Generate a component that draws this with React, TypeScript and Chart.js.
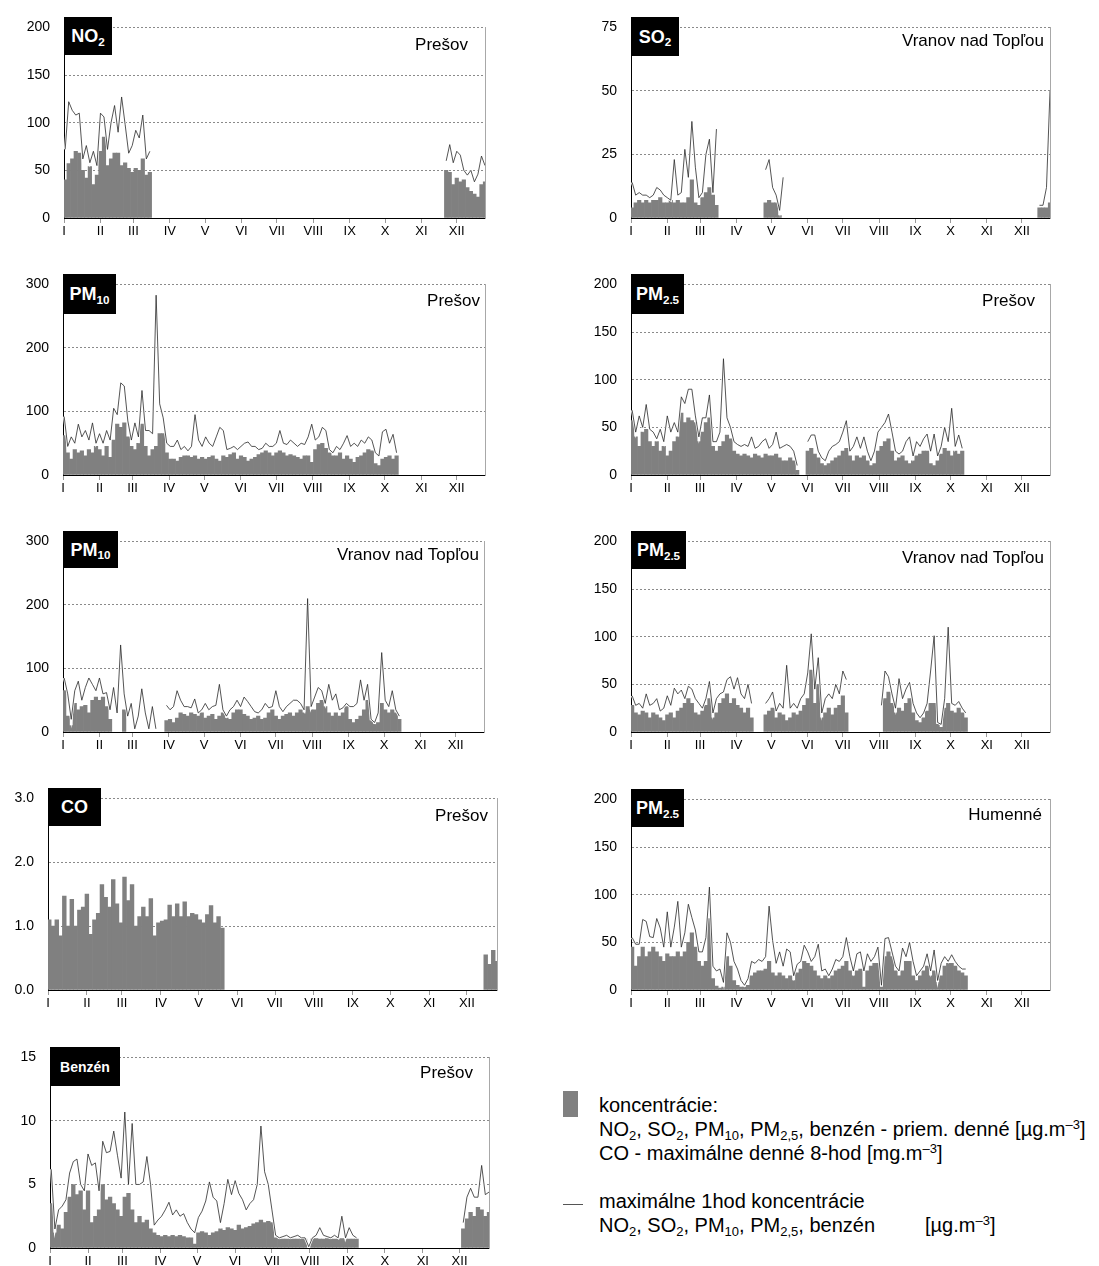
import React, { useEffect, useRef } from 'react';
import { Chart, registerables } from 'chart.js';

Chart.register(...registerables);

// A series is a list of segments: [first 3-day period index, values for consecutive 3-day periods]
type Seg = [number, number[]];

const MONTH_LABELS = ['I', 'II', 'III', 'IV', 'V', 'VI', 'VII', 'VIII', 'IX', 'X', 'XI', 'XII'];
const MONTH_START_DAYS = [0, 31, 59, 90, 120, 151, 181, 212, 243, 273, 304, 334];
const AXIS_LAST_DAY = 358;
const BIN_DAYS = 3;

// ---------- NO2 Prešov ----------
const NO2_MEAN: Seg[] = [
  [0, [40, 57, 62, 70, 68, 50, 42, 54, 35, 45, 70, 85, 55, 62, 68, 68, 55, 58, 52, 48, 52, 50, 62, 45, 48]],
  [108, [50, 48, 35, 42, 38, 40, 32, 28, 25, 22, 35, 38]],
];
const NO2_MAX: Seg[] = [
  [0, [72, 122, 113, 108, 110, 62, 76, 58, 70, 55, 110, 106, 72, 100, 118, 90, 127, 98, 68, 76, 92, 84, 108, 62, 70]],
  [108, [60, 77, 58, 70, 66, 50, 45, 50, 38, 46, 65, 55]],
];

// ---------- SO2 Vranov nad Topľou ----------
const SO2_MEAN: Seg[] = [
  [0, [4, 6, 7, 6, 7, 6, 7, 7, 8, 6, 6, 7, 6, 7, 6, 6, 8, 15, 6, 5, 8, 10, 12, 9, 5]],
  [38, [6, 7, 6, 6, 1]],
  [116, [4, 4, 4, 6]],
];
const SO2_MAX: Seg[] = [
  [0, [14, 9, 10, 9, 9, 8, 9, 12, 11, 9, 8, 7, 23, 9, 10, 27, 16, 38, 20, 8, 10, 25, 31, 10, 35]],
  [38, [19, 23, 12, 9, 3, 16]],
  [116, [5, 5, 12, 50]],
];

// ---------- PM10 Prešov ----------
const PM10_PRESOV_MEAN: Seg[] = [
  [0, [62, 35, 25, 40, 35, 38, 30, 40, 35, 45, 40, 30, 45, 28, 55, 80, 75, 82, 60, 45,
    40, 50, 80, 45, 30, 40, 45, 65, 65, 35, 25, 25, 22, 28, 30, 30, 28, 30, 25, 28,
    25, 28, 30, 25, 22, 30, 28, 32, 35, 25, 30, 28, 22, 25, 28, 32, 35, 38, 35, 30,
    35, 38, 35, 30, 32, 30, 28, 25, 30, 30, 20, 40, 48, 50, 42, 35, 30, 30, 35, 25,
    30, 25, 20, 28, 30, 35, 40, 38, 18, 15, 25, 28, 30, 25, 30]],
];
const PM10_PRESOV_MAX: Seg[] = [
  [0, [92, 45, 60, 50, 80, 60, 70, 55, 82, 50, 65, 50, 70, 55, 105, 95, 145, 140, 85, 55,
    82, 60, 133, 70, 70, 65, 283, 112, 90, 50, 45, 45, 55, 40, 45, 38, 45, 95, 55, 45,
    60, 50, 45, 60, 75, 70, 40, 42, 45, 40, 45, 50, 52, 45, 45, 40, 42, 50, 45, 45,
    50, 70, 50, 48, 55, 50, 45, 50, 48, 60, 80, 55, 60, 75, 70, 40, 35, 45, 40, 50,
    62, 45, 50, 45, 55, 50, 60, 55, 35, 30, 68, 72, 50, 64, 35]],
];

// ---------- PM2.5 Prešov ----------
const PM25_PRESOV_MEAN: Seg[] = [
  [0, [57, 40, 30, 45, 48, 35, 30, 35, 25, 30, 20, 25, 35, 40, 65, 55, 60, 57, 55, 35,
    45, 55, 60, 30, 25, 30, 35, 42, 38, 25, 22, 20, 22, 20, 18, 22, 20, 18, 22, 20,
    20, 22, 18, 15, 15, 18, 15, 5]],
  [50, [25, 28, 22, 18, 12, 10, 12, 15, 18, 20, 25, 28, 20, 15, 20, 18, 20, 15, 10, 12,
    25, 30, 35, 38, 25, 15, 18, 20, 15, 12, 15, 20, 22, 25, 25, 12, 10, 15, 22, 28,
    25, 20, 25, 22, 25]],
];
const PM25_PRESOV_MAX: Seg[] = [
  [0, [68, 45, 62, 50, 74, 48, 45, 38, 48, 35, 62, 45, 55, 45, 82, 75, 90, 90, 62, 40,
    60, 60, 84, 35, 35, 45, 122, 60, 50, 35, 32, 30, 32, 30, 40, 28, 30, 35, 38, 28,
    32, 45, 28, 30, 32, 30, 25, 10]],
  [50, [35, 42, 42, 25, 18, 15, 25, 30, 32, 35, 45, 57, 25, 30, 40, 28, 40, 25, 15, 25,
    45, 50, 55, 64, 45, 25, 22, 25, 35, 40, 20, 35, 30, 38, 43, 25, 43, 20, 30, 50,
    35, 70, 30, 42, 28]],
];

// ---------- PM10 Vranov nad Topľou ----------
const PM10_VRANOV_MEAN: Seg[] = [
  [0, [65, 25, 10, 45, 35, 40, 42, 30, 50, 55, 50, 55, 40, 20]],
  [17, [35]],
  [29, [18, 20, 15, 22, 30, 28, 25, 30, 28, 25, 30, 22, 25, 28, 20, 25, 30, 22, 20, 30,
    35, 35, 28, 25, 20, 22, 25, 20, 22, 30, 35, 25, 20, 25, 28, 30, 25, 30, 35, 30,
    40, 35, 35, 45, 50, 40, 30, 25, 30, 25, 30, 40, 20, 15, 20, 25, 35, 50, 18, 12,
    15, 45, 35, 30, 35, 30, 20]],
];
const PM10_VRANOV_MAX: Seg[] = [
  [0, [85, 60, 20, 65, 80, 50, 70, 85, 75, 65, 85, 60, 62, 35, 70, 30, 137, 60, 25, 45,
    5, 25, 68, 30, 5, 40, 5]],
  [29, [42, 35, 40, 65, 50, 40, 40, 38, 52, 30, 35, 45, 35, 40, 42, 75, 35, 25, 35, 40,
    50, 40, 55, 48, 40, 32, 30, 35, 45, 38, 40, 65, 40, 32, 40, 45, 50, 50, 45, 35,
    210, 40, 55, 70, 65, 45, 75, 50, 60, 35, 38, 45, 40, 40, 45, 82, 50, 75, 20, 15,
    30, 125, 50, 40, 65, 35, 25]],
];

// ---------- PM2.5 Vranov nad Topľou ----------
const PM25_VRANOV_MEAN: Seg[] = [
  [0, [28, 20, 18, 22, 20, 15, 20, 18, 15, 12, 18, 20, 15, 22, 25, 30, 35, 30, 20, 18,
    22, 28, 35, 15, 20, 30, 35, 40, 30, 35, 28, 25, 20, 25, 15]],
  [38, [18, 22, 25, 15, 20, 18, 12, 15, 20, 18, 22, 28, 35, 65, 30, 50, 15, 20, 25, 18,
    25, 28, 38, 20]],
  [72, [35, 42, 30, 20, 25, 22, 30, 35, 20, 12, 10, 15, 22, 30, 30, 8, 5, 25, 30, 22,
    20, 25, 20, 15]],
];
const PM25_VRANOV_MAX: Seg[] = [
  [0, [38, 28, 30, 25, 40, 28, 30, 35, 22, 25, 38, 28, 46, 40, 44, 35, 48, 45, 35, 30,
    25, 35, 53, 20, 35, 40, 42, 55, 58, 45, 57, 40, 35, 50, 30]],
  [38, [30, 35, 42, 22, 30, 25, 70, 25, 30, 25, 35, 40, 62, 103, 45, 78, 20, 35, 40, 35,
    50, 40, 64, 55]],
  [71, [28, 64, 58, 40, 25, 56, 35, 45, 52, 30, 20, 15, 20, 30, 64, 101, 10, 8, 35, 110,
    30, 28, 32, 25, 20]],
];

// ---------- CO Prešov (max daily 8-h, mg/m3) ----------
const CO_MAX8H: Seg[] = [
  [0, [1.1, 1.0, 1.1, 0.85, 1.47, 1.0, 1.42, 1.0, 1.25, 1.3, 1.5, 0.87, 1.1, 1.2, 1.65, 1.45,
    1.3, 1.73, 1.35, 1.05, 1.77, 1.4, 1.65, 1.0, 1.15, 1.3, 1.15, 1.43, 0.85, 1.05, 1.08,
    1.1, 1.33, 1.15, 1.35, 1.15, 1.38, 1.15, 1.2, 1.18, 1.1, 1.05, 1.18, 1.32, 1.05, 1.15, 0.97]],
  [116, [0.55, 0.4, 0.62, 0.45]],
];

// ---------- PM2.5 Humenné ----------
const PM25_HUMENNE_MEAN: Seg[] = [
  [0, [45, 25, 35, 45, 35, 40, 45, 40, 35, 30, 38, 35, 35, 40, 35, 40, 50, 60, 45, 30,
    25, 30, 75, 12, 4, 2, 3, 35, 25, 10, 5, 3, 3, 5, 15, 18, 20, 20, 22, 30,
    18, 15, 18, 15, 12, 15, 10, 18, 22, 30, 28, 25, 20, 15, 12, 15, 12, 15, 20, 22,
    25, 30, 20, 15, 20, 22, 3, 20, 25, 28, 28, 3, 35, 40, 35, 20, 15, 20, 30, 30,
    15, 10, 15, 20, 25, 15, 20, 8, 15, 25, 28, 28, 25, 20, 18, 15]],
];
const PM25_HUMENNE_MAX: Seg[] = [
  [0, [55, 48, 48, 74, 72, 56, 55, 75, 65, 45, 82, 45, 66, 93, 45, 60, 90, 76, 63, 40,
    40, 55, 108, 25, 20, 22, 8, 60, 50, 30, 22, 10, 5, 12, 30, 28, 32, 30, 35, 88,
    52, 28, 40, 25, 43, 40, 15, 27, 30, 47, 40, 30, 35, 48, 20, 22, 15, 22, 32, 30,
    35, 55, 35, 20, 38, 40, 20, 38, 30, 35, 45, 5, 54, 55, 40, 25, 20, 44, 35, 50,
    30, 15, 20, 25, 38, 20, 42, 10, 28, 35, 30, 37, 30, 25, 22, 22]],
];

// ---------- Benzén Prešov ----------
const BENZEN_MEAN: Seg[] = [
  [0, [3.5, 1.2, 1.8, 1.5, 2.8, 4.0, 5.0, 4.2, 4.5, 3.0, 4.5, 2.0, 2.5, 3.0, 5.0, 3.8, 4.0,
    3.5, 3.0, 2.5, 4.0, 4.3, 3.0, 2.0, 2.5, 2.0, 2.2, 1.5, 1.2, 1.0, 0.9, 1.0, 0.9, 1.0,
    0.9, 1.0, 0.9, 0.8, 0.8, 0.3, 1.2, 1.3, 1.2, 1.0, 1.2, 1.3, 1.5, 1.4, 1.6, 1.5, 1.4,
    1.8, 1.5, 1.6, 1.7, 1.9, 2.0, 2.2, 2.0, 2.1, 2.0, 0.8, 0.7, 0.7, 0.7, 0.7, 0.7, 0.7,
    0.7, 0.7]],
  [71, [0.7, 0.75, 0.7, 0.7, 0.75, 0.7, 0.7, 0.7, 0.75, 0.7, 0.7, 0.7, 0.7]],
  [112, [1.5, 2.3, 2.8, 2.5, 3.2, 3.0, 2.5, 2.8]],
];
const BENZEN_MAX: Seg[] = [
  [0, [6.2, 1.5, 3.0, 3.3, 3.8, 5.9, 6.8, 7.0, 5.0, 4.5, 7.4, 6.5, 6.7, 4.5, 8.4, 7.5, 7.6,
    9.2, 7.3, 5.5, 10.7, 5.0, 9.8, 5.0, 5.0, 5.2, 7.2, 5.0, 1.8, 2.2, 2.5, 3.0, 3.6, 2.6,
    3.0, 2.5, 2.7, 2.0, 1.5, 1.2, 2.4, 2.9, 3.7, 5.2, 4.0, 3.7, 2.0, 3.5, 5.4, 4.2, 5.3,
    4.3, 3.8, 3.0, 3.5, 3.8, 5.0, 9.6, 6.0, 5.0, 3.0, 1.0, 0.8, 0.9, 1.0, 0.8, 0.9, 1.0,
    0.8, 0.8, 0.1, 0.8, 1.0, 1.6, 1.0, 0.9, 0.8, 1.0, 0.8, 2.5, 0.8, 1.6, 1.0, 0.8]],
  [112, [2.0, 4.0, 4.7, 4.0, 4.0, 6.5, 4.2, 4.4]],
];

const FONT = '"Liberation Sans", Arial, Helvetica, sans-serif';
const Y_W = 60;
const T_PAD = 12;
const R_PAD = 4;
const X_H = 26;

interface Rect { l: number; t: number; w: number; h: number }
interface PanelDef {
  id: string;
  mean: Seg[];
  max?: Seg[];
  yMax: number;
  yStep: number;
  dec: number;
  rect: Rect;
  tag: Rect;
  tagMain: string;
  tagSub: string;
  tagSize: number;
  station: string;
  stRight: number;
  stCy: number;
}

const PANELS: PanelDef[] = [
  { id: 'no2', mean: NO2_MEAN, max: NO2_MAX, yMax: 200, yStep: 50, dec: 0,
    rect: { l: 64, t: 17, w: 421, h: 201 }, tag: { l: 64, t: 17, w: 48, h: 38 },
    tagMain: 'NO', tagSub: '2', tagSize: 18, station: 'Prešov', stRight: 468, stCy: 45 },
  { id: 'so2', mean: SO2_MEAN, max: SO2_MAX, yMax: 75, yStep: 25, dec: 0,
    rect: { l: 631, t: 17, w: 419, h: 201 }, tag: { l: 631, t: 17, w: 48, h: 39 },
    tagMain: 'SO', tagSub: '2', tagSize: 18, station: 'Vranov nad Topľou', stRight: 1044, stCy: 41 },
  { id: 'pm10p', mean: PM10_PRESOV_MEAN, max: PM10_PRESOV_MAX, yMax: 300, yStep: 100, dec: 0,
    rect: { l: 63, t: 274, w: 422, h: 201 }, tag: { l: 63, t: 274, w: 53, h: 40 },
    tagMain: 'PM', tagSub: '10', tagSize: 18, station: 'Prešov', stRight: 480, stCy: 301 },
  { id: 'pm25p', mean: PM25_PRESOV_MEAN, max: PM25_PRESOV_MAX, yMax: 200, yStep: 50, dec: 0,
    rect: { l: 631, t: 274, w: 419, h: 201 }, tag: { l: 631, t: 274, w: 53, h: 40 },
    tagMain: 'PM', tagSub: '2.5', tagSize: 18, station: 'Prešov', stRight: 1035, stCy: 301 },
  { id: 'pm10v', mean: PM10_VRANOV_MEAN, max: PM10_VRANOV_MAX, yMax: 300, yStep: 100, dec: 0,
    rect: { l: 63, t: 531, w: 421, h: 201 }, tag: { l: 63, t: 531, w: 55, h: 37 },
    tagMain: 'PM', tagSub: '10', tagSize: 18, station: 'Vranov nad Topľou', stRight: 479, stCy: 555 },
  { id: 'pm25v', mean: PM25_VRANOV_MEAN, max: PM25_VRANOV_MAX, yMax: 200, yStep: 50, dec: 0,
    rect: { l: 631, t: 531, w: 419, h: 201 }, tag: { l: 631, t: 531, w: 55, h: 38 },
    tagMain: 'PM', tagSub: '2.5', tagSize: 18, station: 'Vranov nad Topľou', stRight: 1044, stCy: 558 },
  { id: 'co', mean: CO_MAX8H, yMax: 3, yStep: 1, dec: 1,
    rect: { l: 48, t: 788, w: 449, h: 202 }, tag: { l: 48, t: 788, w: 53, h: 38 },
    tagMain: 'CO', tagSub: '', tagSize: 18, station: 'Prešov', stRight: 488, stCy: 816 },
  { id: 'pm25h', mean: PM25_HUMENNE_MEAN, max: PM25_HUMENNE_MAX, yMax: 200, yStep: 50, dec: 0,
    rect: { l: 631, t: 789, w: 419, h: 201 }, tag: { l: 631, t: 789, w: 53, h: 38 },
    tagMain: 'PM', tagSub: '2.5', tagSize: 18, station: 'Humenné', stRight: 1042, stCy: 815 },
  { id: 'benzen', mean: BENZEN_MEAN, max: BENZEN_MAX, yMax: 15, yStep: 5, dec: 0,
    rect: { l: 50, t: 1047, w: 439, h: 201 }, tag: { l: 50, t: 1047, w: 70, h: 39 },
    tagMain: 'Benzén', tagSub: '', tagSize: 14, station: 'Prešov', stRight: 473, stCy: 1073 },
];

function barPoints(segs: Seg[]) {
  const pts: { x: number; y: number }[] = [];
  segs.forEach(([start, vals]) => {
    vals.forEach((v, i) => pts.push({ x: (start + i) * BIN_DAYS + 1, y: v }));
  });
  return pts;
}

function linePoints(segs: Seg[]) {
  const pts: { x: number; y: number | null }[] = [];
  segs.forEach(([start, vals], si) => {
    if (si > 0) pts.push({ x: start * BIN_DAYS - 0.5, y: null });
    vals.forEach((v, i) => pts.push({ x: (start + i) * BIN_DAYS + 1, y: v }));
  });
  return pts;
}

function PanelChart({ p }: { p: PanelDef }) {
  const ref = useRef<HTMLCanvasElement>(null);
  const cw = Y_W + p.rect.w + R_PAD;
  const ch = T_PAD + p.rect.h + X_H;
  useEffect(() => {
    const canvas = ref.current;
    if (!canvas) return;
    const datasets: any[] = [];
    if (p.max) {
      datasets.push({
        type: 'line', data: linePoints(p.max), borderColor: '#2a2a2a', borderWidth: 0.8,
        pointRadius: 0, tension: 0, spanGaps: false, order: 0, xAxisID: 'x', yAxisID: 'y',
      });
      datasets.push({
        type: 'line', data: linePoints(p.max), borderColor: '#ffffff', borderWidth: 2.4,
        pointRadius: 0, tension: 0, spanGaps: false, order: 1, xAxisID: 'x', yAxisID: 'y',
      });
    }
    datasets.push({
      type: 'bar', data: barPoints(p.mean), backgroundColor: '#808080', borderWidth: 0,
      barPercentage: 1, categoryPercentage: 1, order: 2, xAxisID: 'x', yAxisID: 'y',
    });
    const chart = new Chart(canvas, {
      type: 'bar',
      data: { datasets },
      options: {
        animation: false,
        responsive: false,
        events: [],
        layout: { padding: { top: T_PAD, right: R_PAD, left: 0, bottom: 0 } },
        plugins: { legend: { display: false }, tooltip: { enabled: false } },
        scales: {
          x: {
            type: 'linear',
            min: 0,
            max: AXIS_LAST_DAY,
            offset: false,
            afterFit: (s: any) => { s.height = X_H; },
            afterBuildTicks: (s: any) => { s.ticks = MONTH_START_DAYS.map((v) => ({ value: v })); },
            ticks: {
              autoSkip: false, maxRotation: 0, minRotation: 0, padding: 1, color: '#000',
              font: { family: FONT, size: 13 },
              callback: (_v: any, i: number) => MONTH_LABELS[i],
            },
            grid: { drawOnChartArea: false, drawTicks: true, tickLength: 5, tickColor: '#9a9a9a', offset: false },
            border: { color: '#000', width: 1 },
          },
          y: {
            type: 'linear',
            position: 'left',
            min: 0,
            max: p.yMax,
            afterFit: (s: any) => { s.width = Y_W; },
            ticks: {
              stepSize: p.yStep, padding: 14, color: '#000',
              font: { family: FONT, size: 14 },
              callback: (v: any) => Number(v).toFixed(p.dec),
            },
            grid: { color: '#8a8a8a', drawTicks: false, lineWidth: 1 },
            border: { color: '#000', width: 1, dash: [2, 2] },
          },
          yR: {
            type: 'linear',
            position: 'right',
            display: true,
            afterFit: (s: any) => { s.width = 0; },
            ticks: { display: false },
            grid: { display: false, drawTicks: false },
            border: { color: '#a8a8a8', width: 1 },
          },
        },
      } as any,
    });
    return () => chart.destroy();
  }, [p]);
  return (
    <canvas
      ref={ref}
      width={cw}
      height={ch}
      style={{ position: 'absolute', left: p.rect.l - Y_W, top: p.rect.t - T_PAD, width: cw, height: ch }}
    />
  );
}

const subStyle: React.CSSProperties = { fontSize: '0.65em', position: 'relative', top: '0.3em', lineHeight: 0 };
const supStyle: React.CSSProperties = { fontSize: '0.65em', position: 'relative', top: '-0.55em', lineHeight: 0 };

function Tag({ p }: { p: PanelDef }) {
  return (
    <div style={{
      position: 'absolute', left: p.tag.l, top: p.tag.t, width: p.tag.w, height: p.tag.h,
      background: '#000', color: '#fff', fontWeight: 'bold', fontSize: p.tagSize, fontFamily: FONT,
      display: 'flex', alignItems: 'center', justifyContent: 'center', zIndex: 2, lineHeight: 1,
    }}>
      <span>{p.tagMain}{p.tagSub ? <span style={subStyle}>{p.tagSub}</span> : null}</span>
    </div>
  );
}

function Station({ p }: { p: PanelDef }) {
  return (
    <div style={{
      position: 'absolute', right: 1099 - p.stRight, top: p.stCy - 10, height: 20, lineHeight: '20px',
      fontSize: 17, fontFamily: FONT, color: '#000', whiteSpace: 'nowrap', zIndex: 2,
    }}>{p.station}</div>
  );
}

function Pollutants() {
  return (
    <>
      NO<span style={subStyle}>2</span>, SO<span style={subStyle}>2</span>, PM<span style={subStyle}>10</span>, PM<span style={subStyle}>2,5</span>, benzén
    </>
  );
}

function Legend() {
  const line: React.CSSProperties = { height: 24, lineHeight: '24px', whiteSpace: 'nowrap' };
  return (
    <>
      <div style={{ position: 'absolute', left: 563, top: 1091, width: 15, height: 26, background: '#808080' }} />
      <div style={{ position: 'absolute', left: 563, top: 1204, width: 20, height: 1, background: '#555' }} />
      <div style={{ position: 'absolute', left: 599, top: 1093, fontSize: 20, fontFamily: FONT, color: '#000' }}>
        <div style={line}>koncentrácie:</div>
        <div style={line}><Pollutants /> - priem. denné [µg.m<span style={supStyle}>–3</span>]</div>
        <div style={line}>CO - maximálne denné 8-hod [mg.m<span style={supStyle}>–3</span>]</div>
      </div>
      <div style={{ position: 'absolute', left: 599, top: 1189, fontSize: 20, fontFamily: FONT, color: '#000' }}>
        <div style={line}>maximálne 1hod koncentrácie</div>
        <div style={line}>
          <Pollutants />
          <span style={{ display: 'inline-block', width: 50 }} />
          [µg.m<span style={supStyle}>–3</span>]
        </div>
      </div>
    </>
  );
}

export default function App() {
  return (
    <div style={{ position: 'absolute', left: 0, top: 0, width: 1099, height: 1266, background: '#fff', overflow: 'hidden' }}>
      {PANELS.map((p) => <PanelChart key={p.id} p={p} />)}
      {PANELS.map((p) => <Tag key={'t' + p.id} p={p} />)}
      {PANELS.map((p) => <Station key={'s' + p.id} p={p} />)}
      <Legend />
    </div>
  );
}
